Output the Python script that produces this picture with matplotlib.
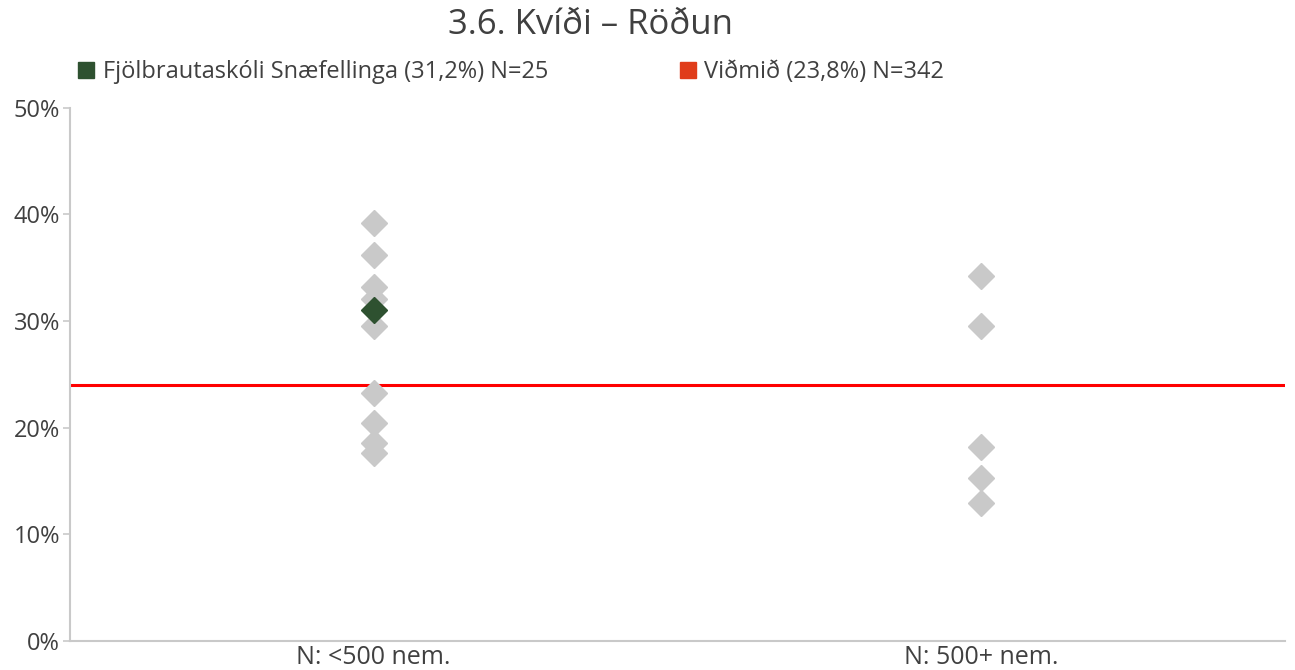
import matplotlib.pyplot as plt
from matplotlib.lines import Line2D

plt.rcParams['font.family'] = ['Open Sans', 'DejaVu Sans']

# Data
categories = ["N: <500 nem.", "N: 500+ nem."]
small_schools = [39.2, 36.2, 33.2, 32.1, 29.5, 23.3, 20.4, 18.6, 17.6]
large_schools = [34.2, 29.5, 18.2, 15.3, 12.9]
school_value = 31.0
school_label = "Fjölbrautaskóli Snæfellinga (31,2%) N=25"
benchmark_value = 24.0
benchmark_label = "Viðmið (23,8%) N=342"
title = "3.6. Kvíði – Röðun"

grey = "#C9C9C9"
green = "#2E5130"
text_col = "#404040"

fig = plt.figure(figsize=(12.95, 6.70), dpi=100)
ax = fig.add_axes([0.054, 0.0433, 0.938, 0.7957])

ax.plot([0] * len(small_schools), small_schools, linestyle="none", marker="D",
        markersize=13, color=grey, zorder=2)
ax.plot([1] * len(large_schools), large_schools, linestyle="none", marker="D",
        markersize=13, color=grey, zorder=2)
ax.plot([0], [school_value], linestyle="none", marker="D", markersize=13,
        color=green, zorder=3)
ax.axhline(benchmark_value, color="#FF0000", linewidth=2.2, zorder=1)

ax.set_xlim(-0.5, 1.5)
ax.set_ylim(0, 50)
ax.set_yticks(range(0, 51, 10))
ax.set_yticklabels([f"{v}%" for v in range(0, 51, 10)])
ax.set_xticks([0, 1])
ax.set_xticklabels(categories)

for s in ["top", "right"]:
    ax.spines[s].set_visible(False)
for s in ["left", "bottom"]:
    ax.spines[s].set_color(grey)
    ax.spines[s].set_linewidth(1.5)
ax.tick_params(axis="y", colors=grey, labelcolor=text_col, labelsize=17,
               length=5, width=1.2, pad=2)
ax.tick_params(axis="x", length=0, labelcolor=text_col, labelsize=18, pad=3)

fig.text(0.456, 0.963, title, ha="center", va="center", fontsize=25, color=text_col)

handles = [
    Line2D([], [], linestyle="none", marker="s", markersize=11, color=green),
    Line2D([], [], linestyle="none", marker="s", markersize=11, color="#E03C1A"),
]
leg = fig.legend(handles, [school_label, benchmark_label], ncol=2,
                 loc="center left", bbox_to_anchor=(0.044, 0.892),
                 frameon=False, fontsize=17, handlelength=0.7,
                 handletextpad=0.35, columnspacing=5.55)
for t in leg.get_texts():
    t.set_color(text_col)

plt.savefig("out.png", dpi=100)
